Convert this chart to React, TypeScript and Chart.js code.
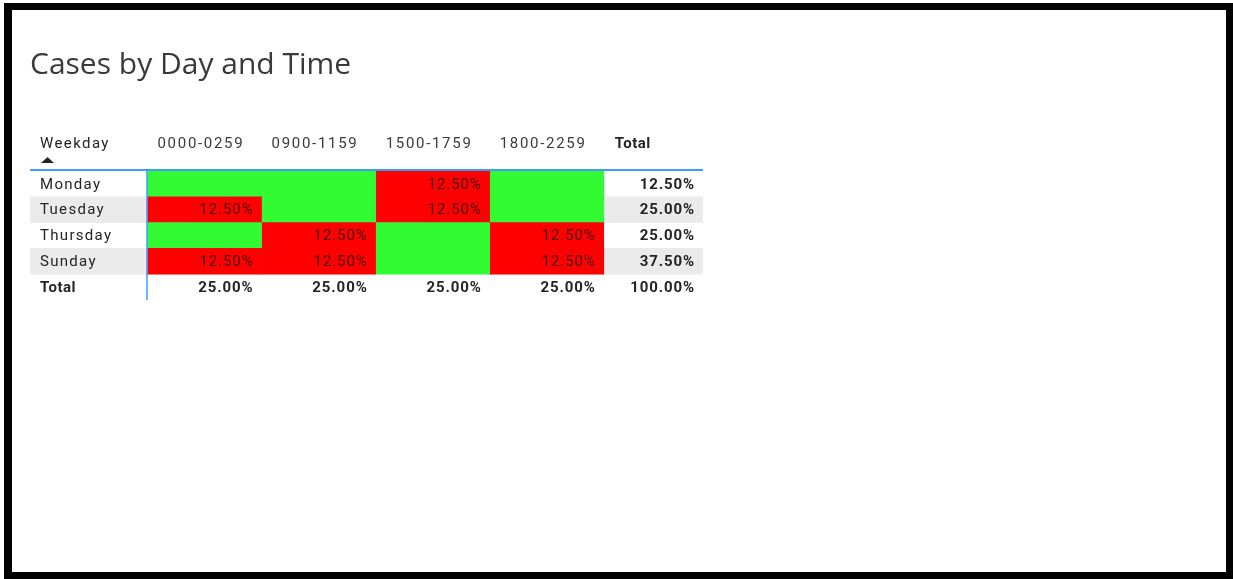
import React, { useEffect, useRef } from "react";
import { Chart, registerables } from "chart.js";

Chart.register(...registerables);

const TITLE = "Cases by Day and Time";
const ROW_HEADER = "Weekday";
const TOTAL_LABEL = "Total";
const weekdays = ["Monday", "Tuesday", "Thursday", "Sunday"];
const timeBands = ["0000-0259", "0900-1159", "1500-1759", "1800-2259"];
// percent of cases per weekday / time band (null = no cases)
const monday: (number | null)[] = [null, null, 12.5, null];
const tuesday: (number | null)[] = [12.5, null, 12.5, null];
const thursday: (number | null)[] = [null, 12.5, null, 12.5];
const sunday: (number | null)[] = [12.5, 12.5, null, 12.5];
const rowTotals = [12.5, 25.0, 25.0, 37.5];
const columnTotals = [25.0, 25.0, 25.0, 25.0];
const grandTotal = 100.0;

const matrix = [monday, tuesday, thursday, sunday];

const RED = "#ff0000";
const GREEN = "#33fb33";
const BAND = "#ebebeb";
const BLUE = "#3c9bff";
const TEXT = "#252423";
const FONT = "Roboto, 'Noto Sans', sans-serif";

const X_MIN = -1.03;
const X_MAX = 4.87;

const fmt = (v: number) => v.toFixed(2) + "%";

const tablePlugin = {
  id: "tableText",
  afterDatasetsDraw(chart: any) {
    const { ctx, chartArea, scales } = chart;
    const xs = scales.x;
    const ys = scales.y;
    const left = xs.getPixelForValue(X_MIN);
    const right = xs.getPixelForValue(X_MAX);
    const firstCell = xs.getPixelForValue(0);
    const totalCol = xs.getPixelForValue(timeBands.length);
    const ls = (v: string) => ((ctx as any).letterSpacing = v);
    ctx.save();
    ctx.textBaseline = "middle";

    // header row
    const hy = chartArea.top - 27;
    ctx.fillStyle = TEXT;
    ctx.font = `400 15px ${FONT}`;
    ctx.textAlign = "left";
    ls("1.4px");
    ctx.fillText(ROW_HEADER, left + 10, hy);
    ctx.fillStyle = "#3a3a3a";
    ls("1.7px");
    timeBands.forEach((t, c) => {
      ctx.fillText(t, xs.getPixelForValue(c) + 10, hy);
    });
    ctx.fillStyle = TEXT;
    ctx.font = `700 15px ${FONT}`;
    ls("0.5px");
    ctx.fillText(TOTAL_LABEL, totalCol + 11, hy);

    // sort arrow
    ctx.beginPath();
    ctx.moveTo(left + 11, chartArea.top - 8);
    ctx.lineTo(left + 17.5, chartArea.top - 14);
    ctx.lineTo(left + 24, chartArea.top - 8);
    ctx.closePath();
    ctx.fill();

    // row labels
    ls("1.3px");
    weekdays.forEach((d, r) => {
      ctx.font = `400 15px ${FONT}`;
      ctx.fillStyle = TEXT;
      ctx.textAlign = "left";
      ctx.fillText(d, left + 10, ys.getPixelForValue(r) + 1);
    });
    ctx.font = `700 15px ${FONT}`;
    ls("0.5px");
    ctx.fillText(TOTAL_LABEL, left + 10, ys.getPixelForValue(weekdays.length) + 1);

    // cell values
    ls("0.9px");
    ctx.textAlign = "right";
    matrix.forEach((row, r) => {
      row.forEach((v, c) => {
        if (v == null) return;
        ctx.font = `400 15px ${FONT}`;
        ctx.fillStyle = "#4a0808";
        ctx.fillText(fmt(v), xs.getPixelForValue(c + 1) - 8, ys.getPixelForValue(r) + 1);
      });
    });
    // totals
    ctx.font = `700 15px ${FONT}`;
    ctx.fillStyle = TEXT;
    ls("0.9px");
    rowTotals.forEach((v, r) => {
      ctx.fillText(fmt(v), right - 8, ys.getPixelForValue(r) + 1);
    });
    columnTotals.forEach((v, c) => {
      ctx.fillText(fmt(v), xs.getPixelForValue(c + 1) - 8, ys.getPixelForValue(weekdays.length) + 1);
    });
    ctx.fillText(fmt(grandTotal), right - 8, ys.getPixelForValue(weekdays.length) + 1);

    // blue rules
    ctx.strokeStyle = BLUE;
    ctx.lineWidth = 2;
    ctx.beginPath();
    ctx.moveTo(left, chartArea.top - 1);
    ctx.lineTo(right, chartArea.top - 1);
    ctx.stroke();
    ctx.lineWidth = 1.5;
    ctx.beginPath();
    ctx.moveTo(firstCell - 0.5, chartArea.top - 1);
    ctx.lineTo(firstCell - 0.5, chartArea.bottom);
    ctx.stroke();
    ctx.restore();
  },
};

export default function App() {
  const ref = useRef<HTMLCanvasElement>(null);
  useEffect(() => {
    if (!ref.current) return;
    const labels = [...weekdays, TOTAL_LABEL];
    const bandData = labels.map((_, r) => (r % 2 === 1 && r < weekdays.length ? [X_MIN, X_MAX] : null));
    const cellSets = timeBands.map((t, c) => ({
      label: t,
      data: labels.map((_, r) => (r < weekdays.length ? [c, c + 1] : null)),
      backgroundColor: labels.map((_, r) => (r < weekdays.length && matrix[r][c] != null ? RED : GREEN)),
      borderWidth: 0,
      grouped: false,
      barPercentage: 1,
      categoryPercentage: 1,
      order: 1,
    }));
    const chart = new Chart(ref.current, {
      type: "bar",
      data: {
        labels,
        datasets: [
          {
            label: "band",
            data: bandData as any,
            backgroundColor: BAND,
            borderWidth: 0,
            grouped: false,
            barPercentage: 1,
            categoryPercentage: 1,
            order: 2,
          },
          ...(cellSets as any),
        ],
      },
      options: {
        indexAxis: "y",
        animation: false,
        responsive: false,
        maintainAspectRatio: false,
        layout: { padding: { left: 18, right: 523, top: 0, bottom: 272 } },
        scales: {
          x: { type: "linear", min: X_MIN, max: X_MAX, display: false },
          y: { type: "category", display: false, offset: true },
        },
        plugins: {
          legend: { display: false },
          tooltip: { enabled: false },
          title: {
            display: true,
            text: TITLE,
            align: "start",
            color: "#3b3a39",
            font: { family: "'Open Sans', sans-serif", size: 30, weight: "normal" as any, lineHeight: 1.2 },
            padding: { top: 37, bottom: 88 },
          },
        },
      },
      plugins: [tablePlugin],
    });
    return () => chart.destroy();
  }, []);

  return (
    <div style={{ position: "fixed", left: 0, top: 0, width: 1233, height: 579, background: "#fff" }}>
      <div
        style={{
          position: "absolute",
          left: 4,
          top: 3,
          width: 1229,
          height: 576,
          boxSizing: "border-box",
          borderLeft: "8px solid #000",
          borderTop: "7px solid #000",
          borderRight: "7px solid #000",
          borderBottom: "7px solid #000",
        }}
      />
      <canvas
        ref={ref}
        width={1214}
        height={562}
        style={{ position: "absolute", left: 12, top: 10, width: 1214, height: 562 }}
      />
    </div>
  );
}
